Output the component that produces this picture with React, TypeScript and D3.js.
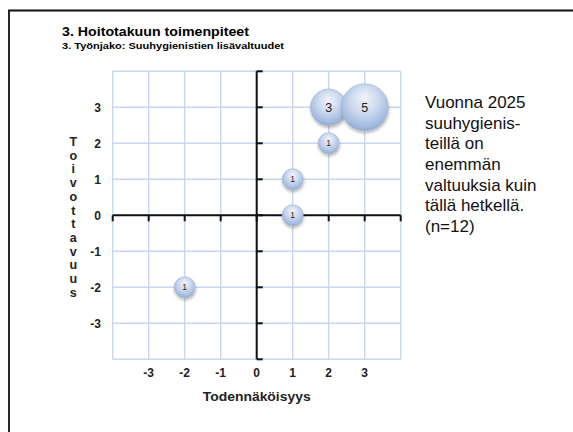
import React from "react";
import * as d3 from "d3";

const xValues = [3, 2, 2, 1, 1, -2];
const yValues = [3, 3, 2, 1, 0, -2];
const sizes = [5, 3, 1, 1, 1, 1];
const tickValues = [-4, -3, -2, -1, 0, 1, 2, 3, 4];
const labelTicks = [-3, -2, -1, 0, 1, 2, 3];
const title = "3. Hoitotakuun toimenpiteet";
const subtitle = "3. Työnjako: Suuhygienistien lisävaltuudet";
const xTitle = "Todennäköisyys";
const yTitle = "Toivottavuus";
const noteLines = [
  "Vuonna 2025",
  "suuhygienis-",
  "teillä on",
  "enemmän",
  "valtuuksia kuin",
  "tällä hetkellä.",
  "(n=12)",
];

const FONT = "'Liberation Sans', Arial, sans-serif";

export default function App() {
  const W = 573;
  const H = 432;
  const x = d3.scaleLinear().domain([-4, 4]).range([112.7, 400.7]);
  const y = d3.scaleLinear().domain([-4, 4]).range([359.3, 71.3]);
  const r = d3.scaleSqrt().domain([0, 5]).range([0, 23.5]);
  const points = xValues
    .map((xv, i) => ({ x: xv, y: yValues[i], s: sizes[i], i }))
    .sort((a, b) => (a.s - b.s === 0 ? a.i - b.i : a.s - b.s));
  const gridColor = "#c9d8ee";

  return (
    <svg
      width={W}
      height={H}
      style={{ position: "absolute", left: 0, top: 0, background: "#fff" }}
      fontFamily={FONT}
    >
      <defs>
        <radialGradient id="bub" cx="50%" cy="40%" r="60%" fx="50%" fy="28%">
          <stop offset="0" stopColor="#f0f4fb" />
          <stop offset="0.5" stopColor="#cbd9ee" />
          <stop offset="0.88" stopColor="#a3badd" />
          <stop offset="1" stopColor="#8fa8d0" />
        </radialGradient>
        <filter id="sh" x="-30%" y="-30%" width="160%" height="170%">
          <feDropShadow dx="0.5" dy="2" stdDeviation="1.6" floodColor="#000" floodOpacity="0.3" />
        </filter>
      </defs>
      <rect x={0} y={0} width={W} height={H} fill="#fff" />
      {/* slide frame */}
      <path d={`M9,${H + 5} L9,10.5 L${W + 5},10.5`} fill="none" stroke="#111" strokeWidth={1.8} />

      <text x={62} y={36} fontSize={12.8} fontWeight="bold" fill="#000" textLength={187} lengthAdjust="spacingAndGlyphs">
        {title}
      </text>
      <text x={62} y={49} fontSize={9.4} fontWeight="bold" fill="#000" textLength={222} lengthAdjust="spacingAndGlyphs">
        {subtitle}
      </text>

      {/* grid */}
      {tickValues.map((t) => (
        <line key={"gx" + t} x1={x(t)} x2={x(t)} y1={y(4)} y2={y(-4)} stroke={gridColor} strokeWidth={1.5} />
      ))}
      {tickValues.map((t) => (
        <line key={"gy" + t} y1={y(t)} y2={y(t)} x1={x(-4)} x2={x(4)} stroke={gridColor} strokeWidth={1.5} />
      ))}

      {/* axes */}
      <line x1={x(-4)} x2={x(4)} y1={y(0)} y2={y(0)} stroke="#111" strokeWidth={2} />
      <line x1={x(0)} x2={x(0)} y1={y(4)} y2={y(-4)} stroke="#111" strokeWidth={2} />
      {tickValues.map((t) => (
        <line key={"tx" + t} x1={x(t)} x2={x(t)} y1={y(0)} y2={y(0) + 6} stroke="#111" strokeWidth={2} />
      ))}
      {tickValues.map((t) => (
        <line key={"ty" + t} x1={x(0)} x2={x(0) + 6} y1={y(t)} y2={y(t)} stroke="#111" strokeWidth={2} />
      ))}

      {/* tick labels */}
      {labelTicks.map((t) => (
        <text key={"lx" + t} x={x(t)} y={377} textAnchor="middle" fontSize={12} fontWeight="bold" fill="#222">
          {t}
        </text>
      ))}
      {labelTicks.map((t) => (
        <text key={"ly" + t} x={101} y={y(t) + 4.2} textAnchor="end" fontSize={12} fontWeight="bold" fill="#222">
          {t}
        </text>
      ))}

      {/* axis titles */}
      <text x={x(0)} y={400.5} textAnchor="middle" fontSize={13} fontWeight="bold" fill="#222" textLength={108} lengthAdjust="spacingAndGlyphs">
        {xTitle}
      </text>
      {yTitle.split("").map((ch, i) => (
        <text key={"yt" + i} x={73.3} y={146 + i * 13.7} textAnchor="middle" fontSize={12.5} fontWeight="bold" fill="#222">
          {ch}
        </text>
      ))}

      {/* bubbles */}
      {points.map((p) => (
        <g key={"b" + p.i}>
          <circle cx={x(p.x)} cy={y(p.y)} r={r(p.s)} fill="url(#bub)" stroke="#9fb5d8" strokeWidth={0.6} filter="url(#sh)" />
          <text
            x={x(p.x)}
            y={y(p.y)}
            dy="0.35em"
            textAnchor="middle"
            fontSize={p.s === 1 ? 8.5 : 12.5}
            fill="#222"
          >
            {p.s}
          </text>
        </g>
      ))}

      {/* note */}
      {noteLines.map((l, i) => (
        <text key={"n" + i} x={425} y={108.3 + i * 20.55} fontSize={17} fill="#111">
          {l}
        </text>
      ))}
    </svg>
  );
}
